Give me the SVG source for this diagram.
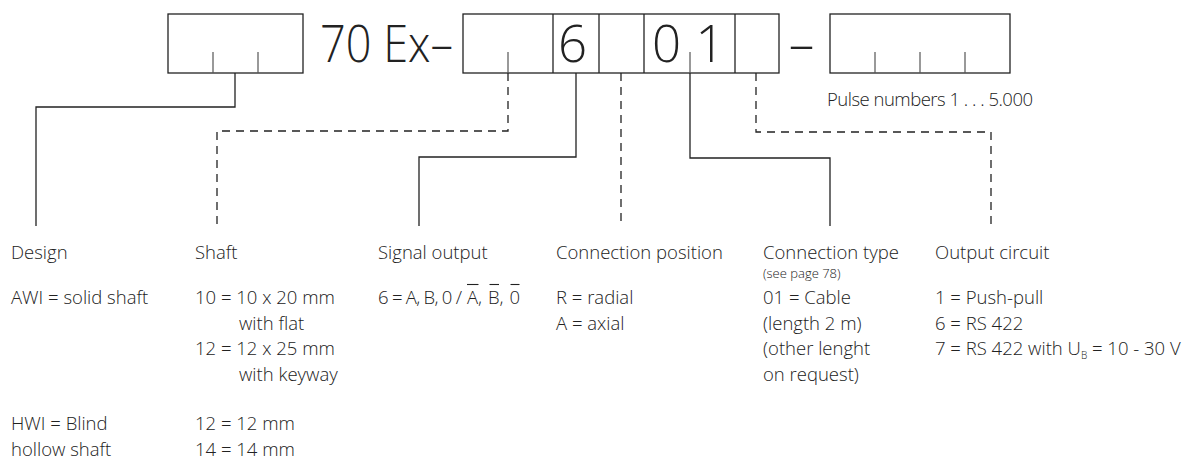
<svg xmlns="http://www.w3.org/2000/svg" width="1189" height="461" viewBox="0 0 1189 461">
<style>
.t { font-family: "Open Sans", "Liberation Sans", sans-serif; font-weight: 300; font-size: 18.5px; fill: #222; }
.big { font-size: 51px; }
.small { font-size: 13px; }
.sub { font-size: 10px; }
.box { fill: #fff; stroke: #222; stroke-width: 1.3; }
.div { stroke: #222; stroke-width: 1.3; }
.tick { stroke: #555; stroke-width: 1.2; }
.solid { fill: none; stroke: #222; stroke-width: 1.3; }
.dash { fill: none; stroke: #222; stroke-width: 1.3; stroke-dasharray: 8 6; }
.ol { stroke: #222; stroke-width: 1.1; }
</style>
<rect width="1189" height="461" fill="#fff"/>

<g id="connectors">
  <path class="solid" d="M235,73 V107 H36 V226"/>
  <path class="dash" d="M508,73 V131 H217 V226"/>
  <path class="solid" d="M576,73 V157 H419 V226"/>
  <path class="dash" d="M621,73 V226"/>
  <path class="solid" d="M690,73 V158 H830 V226"/>
  <path class="dash" d="M756,73 V132 H991 V226"/>
</g>

<g id="box-design">
  <rect class="box" x="168" y="14" width="135" height="59"/>
  <line class="tick" x1="213" y1="52" x2="213" y2="73"/>
  <line class="tick" x1="258" y1="52" x2="258" y2="73"/>
</g>

<g id="title">
  <text class="t big" x="320" y="62" textLength="133" lengthAdjust="spacingAndGlyphs">70 Ex–</text>
</g>

<g id="box-code">
  <rect class="box" x="463" y="14" width="316" height="59"/>
  <line class="div" x1="553" y1="14" x2="553" y2="73"/>
  <line class="div" x1="599" y1="14" x2="599" y2="73"/>
  <line class="div" x1="644" y1="14" x2="644" y2="73"/>
  <line class="div" x1="735" y1="14" x2="735" y2="73"/>
  <line class="tick" x1="508" y1="52" x2="508" y2="73"/>
  <line class="tick" x1="690" y1="52" x2="690" y2="73"/>
  <text class="t big" x="572.5" y="62" text-anchor="middle">6</text>
  <text class="t big" x="666.5" y="62" text-anchor="middle">0</text>
  <text class="t big" x="710" y="62" text-anchor="middle">1</text>
</g>

<g id="separator">
  <text class="t big" x="801.5" y="62" text-anchor="middle">–</text>
</g>

<g id="box-pulse">
  <rect class="box" x="830" y="14" width="180" height="59"/>
  <line class="tick" x1="875" y1="52" x2="875" y2="73"/>
  <line class="tick" x1="920" y1="52" x2="920" y2="73"/>
  <line class="tick" x1="965" y1="52" x2="965" y2="73"/>
  <text class="t" x="827" y="105.5" textLength="206" lengthAdjust="spacing">Pulse numbers 1 . . . 5.000</text>
</g>

<g id="col-design">
  <text class="t" x="11" y="259">Design</text>
  <text class="t" x="11" y="304">AWI = solid shaft</text>
  <text class="t" x="11" y="430">HWI = Blind</text>
  <text class="t" x="11" y="456">hollow shaft</text>
</g>

<g id="col-shaft">
  <text class="t" x="195" y="259">Shaft</text>
  <text class="t" x="195" y="304">10 = 10 x 20 mm</text>
  <text class="t" x="239" y="329.5">with flat</text>
  <text class="t" x="195" y="355">12 = 12 x 25 mm</text>
  <text class="t" x="239" y="380.5">with keyway</text>
  <text class="t" x="195" y="430">12 = 12 mm</text>
  <text class="t" x="195" y="456">14 = 14 mm</text>
</g>

<g id="col-signal">
  <text class="t" x="378" y="259">Signal output</text>
  <text class="t" x="378" y="304" textLength="84" lengthAdjust="spacing">6 = A, B, 0 /</text>
  <text class="t" x="467" y="304">A,</text>
  <text class="t" x="488" y="304">B,</text>
  <text class="t" x="509.5" y="304">0</text>
  <line class="ol" x1="467" y1="284.5" x2="478.5" y2="284.5"/>
  <line class="ol" x1="489.5" y1="284.5" x2="499" y2="284.5"/>
  <line class="ol" x1="510.5" y1="284.5" x2="519.5" y2="284.5"/>
</g>

<g id="col-position">
  <text class="t" x="556" y="259">Connection position</text>
  <text class="t" x="556" y="304">R = radial</text>
  <text class="t" x="556" y="329.5">A = axial</text>
</g>

<g id="col-type">
  <text class="t" x="763" y="259">Connection type</text>
  <text class="t small" x="763" y="278">(see page 78)</text>
  <text class="t" x="763" y="304">01 = Cable</text>
  <text class="t" x="763" y="329.5">(length 2 m)</text>
  <text class="t" x="763" y="355">(other lenght</text>
  <text class="t" x="763" y="380.5">on request)</text>
</g>

<g id="col-output">
  <text class="t" x="935" y="259">Output circuit</text>
  <text class="t" x="935" y="304">1 = Push-pull</text>
  <text class="t" x="935" y="329.5">6 = RS 422</text>
  <text class="t" x="935" y="355">7 = RS 422 with U<tspan class="sub" dy="4">B</tspan><tspan dy="-4"> = 10 - 30 V</tspan></text>
</g>
</svg>
